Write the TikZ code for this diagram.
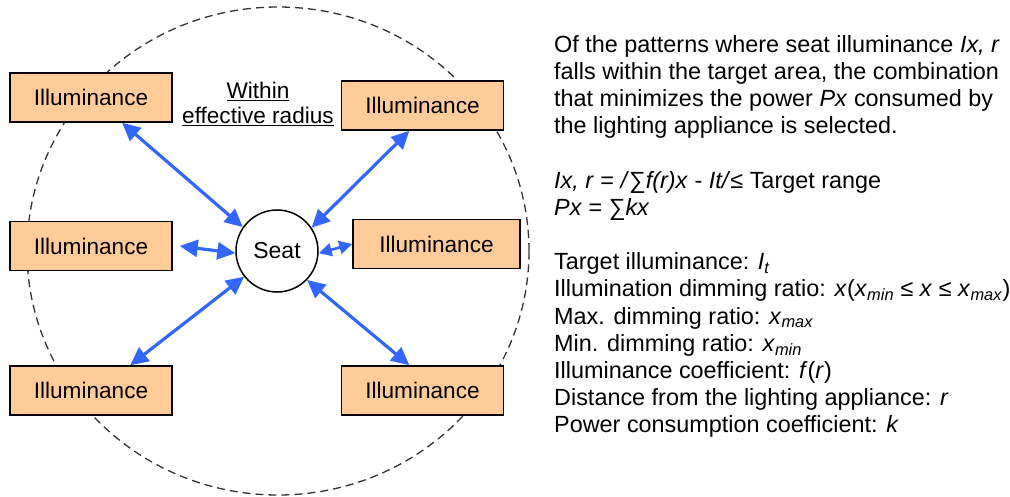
\documentclass[tikz,border=0pt]{standalone}
\usepackage{fontspec}
\setmainfont{Liberation Sans}
\usetikzlibrary{calc,arrows.meta}
\definecolor{boxfill}{HTML}{FFCC99}
\definecolor{arrblue}{HTML}{3366FF}
\definecolor{dashgray}{HTML}{333333}
\newcommand\sub[1]{\textsubscript{\textit{#1}}}
\begin{document}
\begin{tikzpicture}[x=1pt,y=-1pt,
  lamp/.style={draw=black, line width=1.5pt, fill=boxfill, minimum width=162pt, minimum height=49pt, inner sep=0pt, font=\fontsize{22.6}{26}\selectfont},
  seatnode/.style={circle, draw=black, line width=1.5pt, fill=white, minimum size=82pt, inner sep=0pt, font=\fontsize{23}{26}\selectfont},
  conn/.style={draw=arrblue, line width=3.2pt, {Triangle[length=18pt,width=17pt]}-{Triangle[length=18pt,width=17pt]}},
  shortconn/.style={draw=arrblue, line width=2.6pt, {Triangle[length=13pt,width=13pt]}-{Triangle[length=13pt,width=13pt]}},
  radius line/.style={draw=dashgray, line width=1.3pt, dash pattern=on 8pt off 5pt}]
\useasboundingbox (0,0) rectangle (1010,497);
\draw[radius line] (278,251) ellipse [x radius=251pt, y radius=244pt];
\node[lamp] (tl) at (91,97.5) {Illuminance};
\node[lamp] (tr) at (422.5,105.5) {Illuminance};
\node[lamp] (ml) at (91,246) {Illuminance};
\node[lamp, minimum width=167pt] (mr) at (436.5,244) {Illuminance};
\node[lamp] (bl) at (91,390.5) {Illuminance};
\node[lamp] (br) at (422.5,390.5) {Illuminance};
\node[seatnode] (seat) at (277,251) {Seat};
\node[align=center, inner sep=0pt, font=\fontsize{22.6}{25}\selectfont] (lbl) at (258,104) {\underline{Within}\\\underline{effective radius}};
\draw[conn] ($(tl.south west)!0.69!(tl.south east)$) -- (seat.145);
\draw[conn] ($(tr.south west)!0.42!(tr.south east)$) -- (seat.34);
\draw[conn] ([xshift=7pt]ml.east) -- (seat.183);
\draw[shortconn] (seat.-3) -- (mr.west);
\draw[conn] ($(bl.north west)!0.74!(bl.north east)$) -- (seat.218);
\draw[conn] ($(br.north west)!0.42!(br.north east)$) -- (seat.-44);
\node[anchor=north west, align=left, inner sep=0pt, font=\fontsize{23.4}{27.2}\selectfont] (txt) at (554,35) {%
Of the patterns where seat illuminance \textit{Ix, r}\\
falls within the target area, the combination\\
that minimizes the power \textit{Px} consumed by\\
the lighting appliance is selected.\\[27.2pt]
\textit{Ix, r} = \textit{/}∑\textit{f(r)x} - \textit{It/}≤ Target range\\
\textit{Px} = ∑\textit{kx}\\[27.2pt]
Target illuminance: \textit{I}\sub{t}\\
Illumination dimming ratio: \textit{x}(\textit{x}\sub{min} ≤ \textit{x} ≤ \textit{x}\sub{max})\\
Max. dimming ratio: \textit{x}\sub{max}\\
Min. dimming ratio: \textit{x}\sub{min}\\
Illuminance coefficient: \textit{f}(\textit{r})\\
Distance from the lighting appliance: \textit{r}\\
Power consumption coefficient: \textit{k}};
\end{tikzpicture}
\end{document}
